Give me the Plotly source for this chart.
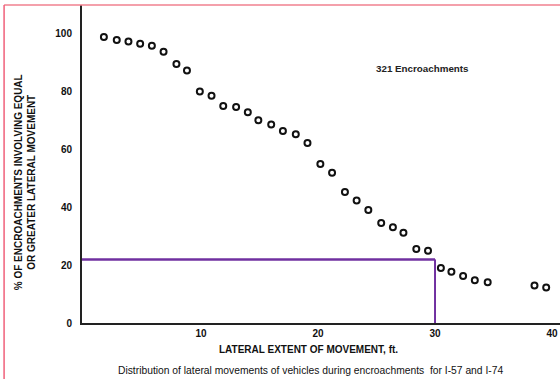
import plotly.graph_objects as go

# Data
lateral_ft = [1.7, 2.8, 3.8, 4.8, 5.8, 6.8, 7.9, 8.8, 9.9, 10.9, 11.9, 13.0, 14.0, 14.9,
              16.0, 17.0, 18.1, 19.1, 20.2, 21.2, 22.3, 23.3, 24.3, 25.4, 26.4, 27.3,
              28.4, 29.4, 30.5, 31.4, 32.4, 33.4, 34.5, 38.5, 39.5]
pct_equal_or_greater = [98.9, 97.9, 97.4, 96.6, 95.9, 93.8, 89.6, 87.3, 80.1, 78.6, 75.1,
                        74.7, 72.9, 70.1, 68.7, 66.4, 65.3, 62.3, 55.0, 52.0, 45.3, 42.4,
                        39.1, 34.6, 33.1, 31.2, 25.6, 25.0, 19.0, 17.7, 16.3, 14.8, 14.1,
                        13.0, 12.3]
x_ticks = [10, 20, 30, 40]
y_ticks = [0, 20, 40, 60, 80, 100]
ref_x = 30
ref_y = 22
note_text = "321 Encroachments"

FONT = "Arial, Liberation Sans, sans-serif"

fig = go.Figure()
fig.add_trace(go.Scatter(
    x=lateral_ft, y=pct_equal_or_greater, mode="markers",
    marker=dict(symbol="circle-open", size=6, color="#111111",
                line=dict(width=2, color="#111111")),
    showlegend=False, hoverinfo="x+y"))

# purple reference lines
fig.add_shape(type="line", xref="x", yref="y", x0=-0.2, x1=ref_x, y0=ref_y, y1=ref_y,
              line=dict(color="#7030A0", width=2.5))
fig.add_shape(type="line", xref="x", yref="y", x0=ref_x, x1=ref_x, y0=0, y1=ref_y,
              line=dict(color="#7030A0", width=2))

# pink page border
fig.add_shape(type="line", xref="paper", yref="paper", x0=-0.163, x1=1.0, y0=1.0, y1=1.0,
              line=dict(color="#F0808F", width=1.5), layer="above")
fig.add_shape(type="line", xref="paper", yref="paper", x0=-0.163, x1=-0.163, y0=1.0, y1=-0.18,
              line=dict(color="#F0607A", width=1.5), layer="above")

fig.add_annotation(x=28.9, y=87.9, xref="x", yref="y", text=f"<b>{note_text}</b>", showarrow=False,
                   xanchor="center", yanchor="middle",
                   font=dict(family=FONT, size=9.8, color="#222222"))
fig.add_annotation(x=0.473, y=-0.082, xref="paper", yref="paper",
                   xanchor="center", yanchor="middle",
                   text="<b>LATERAL EXTENT OF MOVEMENT, ft.</b>", showarrow=False,
                   font=dict(family=FONT, size=10, color="#111111"))
fig.add_annotation(x=0.477, y=-0.148, xref="paper", yref="paper",
                   xanchor="center", yanchor="middle",
                   text="Distribution of lateral movements of vehicles during encroachments  for I-57 and I-74",
                   showarrow=False, font=dict(family=FONT, size=10.3, color="#111111"))
fig.add_annotation(x=-0.119, y=0.443, xref="paper", yref="paper", textangle=-90,
                   xanchor="center", yanchor="middle",
                   text="<b>% OF ENCROACHMENTS INVOLVING EQUAL<br>OR GREATER LATERAL MOVEMENT</b>",
                   showarrow=False, font=dict(family=FONT, size=10, color="#111111"))

fig.update_xaxes(range=[-0.17, 40.68], tickvals=x_ticks, ticktext=[f"<b>{t}</b>" for t in x_ticks],
                 showgrid=False, zeroline=False, showline=True, linewidth=2, linecolor="#222222",
                 ticks="", ticklabelstandoff=0,
                 tickfont=dict(family=FONT, size=10, color="#111111"))
fig.update_yaxes(range=[0, 110], tickvals=y_ticks, ticktext=[f"<b>{t}</b>" for t in y_ticks],
                 showgrid=False, zeroline=False, showline=True, linewidth=2, linecolor="#222222",
                 ticks="", ticklabelstandoff=6,
                 tickfont=dict(family=FONT, size=10, color="#111111"))

fig.update_layout(width=560, height=379, margin=dict(l=82, r=0, t=5, b=56),
                  plot_bgcolor="white", paper_bgcolor="white", showlegend=False)

fig.write_html("out.html", config={"displayModeBar": False},
               post_script="document.body.style.margin='0';")
